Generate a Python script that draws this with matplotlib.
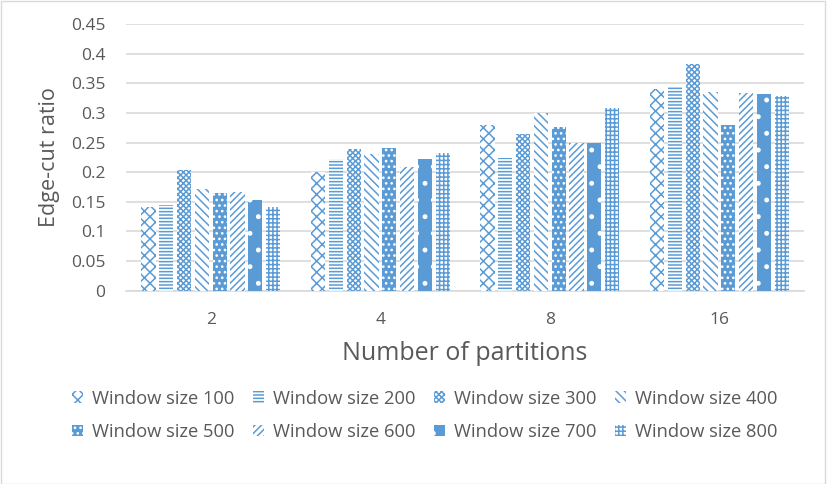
import numpy as np
import matplotlib.pyplot as plt

plt.rcParams['font.family'] = ['Open Sans', 'DejaVu Sans']
plt.rcParams['hatch.linewidth'] = 1.1

partitions = ['2', '4', '8', '16']
series = ['Window size 100', 'Window size 200', 'Window size 300', 'Window size 400',
          'Window size 500', 'Window size 600', 'Window size 700', 'Window size 800']
ratios = [
    [0.141, 0.201, 0.280, 0.341],
    [0.144, 0.223, 0.224, 0.343],
    [0.203, 0.239, 0.265, 0.383],
    [0.171, 0.230, 0.299, 0.335],
    [0.164, 0.240, 0.277, 0.279],
    [0.166, 0.209, 0.250, 0.333],
    [0.153, 0.222, 0.250, 0.332],
    [0.141, 0.233, 0.309, 0.328],
]

BLUE = '#5B9BD5'
GREY = '#595959'
# (facecolor, hatch colour, hatch)
styles = [
    ('white', BLUE, 'xxx'),
    ('white', BLUE, '-----'),
    ('white', BLUE, 'xxxxxx'),
    ('white', BLUE, '\\\\\\\\'),
    (BLUE, 'white', '...'),
    ('white', BLUE, '/////'),
    (BLUE, 'white', '.'),
    ('white', BLUE, '++++'),
]

fig = plt.figure(figsize=(8.27, 4.84), dpi=100)
fig.patches.append(plt.Rectangle((0.001, 0.001), 0.997, 0.997, transform=fig.transFigure,
                                 fill=False, edgecolor='#D9D9D9', linewidth=1))
ax = fig.add_axes([0.1524, 0.3994, 0.820, 0.551])

x = np.arange(len(partitions))
step = 0.105
width = 0.084
handles = []
for i, (name, vals) in enumerate(zip(series, ratios)):
    fc, hc, h = styles[i]
    b = ax.bar(x + (i - 3.5) * step, vals, width, facecolor=fc, edgecolor=hc,
               hatch=h, linewidth=0, label=name, zorder=3)
    handles.append(b)

ax.set_ylim(0, 0.45)
ax.set_xlim(-0.5, 3.5)
ax.set_yticks(np.arange(0, 0.451, 0.05))
ax.set_yticklabels(['0', '0.05', '0.1', '0.15', '0.2', '0.25', '0.3', '0.35', '0.4', '0.45'])
ax.set_xticks(x)
ax.set_xticklabels(partitions)
ax.tick_params(axis='both', length=0, labelsize=12.5, colors=GREY)
ax.tick_params(axis='y', pad=15)
ax.tick_params(axis='x', pad=15)
ax.grid(axis='y', color='#D9D9D9', linewidth=1.2, zorder=0)
for s in ['top', 'right', 'left']:
    ax.spines[s].set_visible(False)
ax.spines['bottom'].set_color('#D9D9D9')
ax.spines['bottom'].set_linewidth(1.2)

ax.set_ylabel('Edge-cut ratio', fontsize=15.5, color=GREY, labelpad=8)
ax.set_xlabel('Number of partitions', fontsize=18, color=GREY, labelpad=10)

# legend fills row by row, like the original
order = [0, 4, 1, 5, 2, 6, 3, 7]
leg = fig.legend([handles[k] for k in order], [series[k] for k in order],
                 loc='center', bbox_to_anchor=(0.514, 0.142), ncol=4, frameon=False,
                 fontsize=13.2, handlelength=0.6, handleheight=0.6, columnspacing=1.0,
                 handletextpad=0.5, labelspacing=0.82)
for t in leg.get_texts():
    t.set_color(GREY)

fig.savefig('out.png', dpi=100)
